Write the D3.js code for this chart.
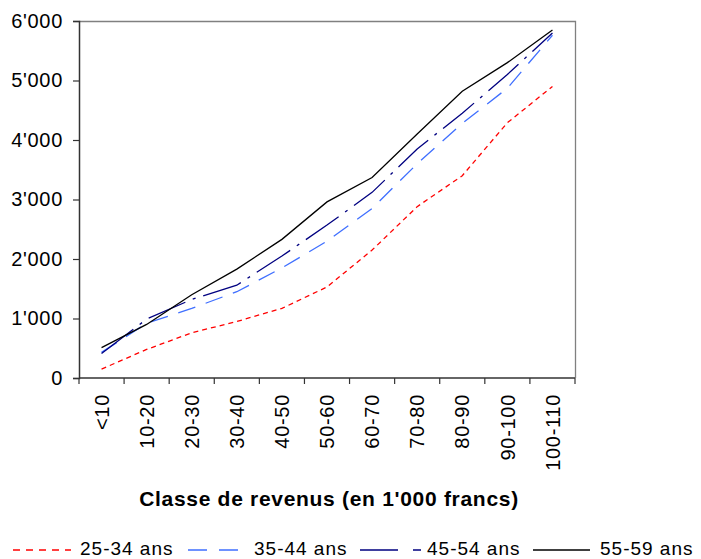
<!DOCTYPE html>
<html>
<head>
<meta charset="utf-8">
<script src="https://cdn.jsdelivr.net/npm/d3@7"></script>
<style>
  body { margin: 0; background: #fff; }
  text { font-family: "Liberation Sans", Arial, sans-serif; fill: #000; }
</style>
</head>
<body>
<div id="chart"></div>
<script>
(function () {

// income classes (in 1'000 francs)
const classes = ["<10", "10-20", "20-30", "30-40", "40-50", "50-60", "60-70", "70-80", "80-90", "90-100", "100-110"];

// values per age group
const ans25_34 = [150, 480, 760, 950, 1170, 1530, 2150, 2880, 3400, 4290, 4900];
const ans35_44 = [430, 920, 1170, 1450, 1850, 2300, 2850, 3600, 4280, 4870, 5760];
const ans45_54 = [410, 990, 1320, 1560, 2050, 2570, 3120, 3850, 4450, 5100, 5800];
const ans55_59 = [510, 900, 1400, 1830, 2330, 2960, 3370, 4100, 4820, 5300, 5850];

const yTicks = [0, 1000, 2000, 3000, 4000, 5000, 6000];

const series = [
  {name: "25-34 ans", values: ans25_34, color: "#ff0000", dash: "5,4", legendDash: "7,6"},
  {name: "35-44 ans", values: ans35_44, color: "#3f6fff", dash: "18,11", legendDash: "19,12"},
  {name: "45-54 ans", values: ans45_54, color: "#000080", dash: "40,8,3,8", legendDash: "38,15,8,15"},
  {name: "55-59 ans", values: ans55_59, color: "#000000", dash: null, legendDash: null}
];

const margin = {top: 21, right: 126, bottom: 181, left: 79};
const W = 701, H = 559;
const width = W - margin.left - margin.right,
      height = H - margin.top - margin.bottom;

const svg = d3.select("#chart").append("svg")
    .attr("width", W)
    .attr("height", H);

const g = svg.append("g")
    .attr("transform", "translate(" + margin.left + "," + margin.top + ")");

const x = d3.scaleBand().domain(classes).range([0, width]);
const y = d3.scaleLinear().domain([0, 6000]).range([height, 0]);

// plot frame (top and right sides)
g.append("path")
  .attr("d", "M0,0.5H" + (width + 0.5) + "V" + height)
  .attr("fill", "none")
  .attr("stroke", "#808080")
  .attr("stroke-width", 1.3);

// y axis
const fmt = v => d3.format(",")(v).replace(/,/g, "'");
const yAxis = g.append("g")
  .call(d3.axisLeft(y).tickValues(yTicks).tickFormat(fmt).tickSize(6).tickSizeOuter(6));
yAxis.select(".domain").attr("stroke", "#333").attr("stroke-width", 1.5);
yAxis.selectAll(".tick line").attr("stroke", "#333").attr("stroke-width", 1.2);
yAxis.selectAll(".tick text")
  .attr("x", -16)
  .style("font-size", "20px")
  .style("letter-spacing", "0.7px")
  .attr("font-family", null);

// x axis, ticks between categories
const xAxis = g.append("g")
  .attr("transform", "translate(0," + height + ")");
xAxis.append("line")
  .attr("x1", 0).attr("x2", width)
  .attr("stroke", "#333").attr("stroke-width", 1.5);
xAxis.selectAll(".xt")
  .data(classes.concat(["end"]))
  .join("line")
  .attr("class", "xt")
  .attr("x1", (d, i) => i * x.step())
  .attr("x2", (d, i) => i * x.step())
  .attr("y1", 0).attr("y2", 6)
  .attr("stroke", "#333").attr("stroke-width", 1.2);
xAxis.selectAll(".xl")
  .data(classes)
  .join("text")
  .attr("class", "xl")
  .attr("transform", d => "translate(" + (x(d) + x.bandwidth() / 2) + ",16) rotate(-90)")
  .attr("text-anchor", "end")
  .attr("dy", "0.36em")
  .style("font-size", "20px")
  .style("letter-spacing", "0.7px")
  .text(d => d);

// axis title
svg.append("text")
  .attr("x", margin.left + width / 2 + 2)
  .attr("y", 506)
  .attr("text-anchor", "middle")
  .style("font-size", "21px")
  .style("font-weight", "bold")
  .style("letter-spacing", "0.7px")
  .text("Classe de revenus (en 1'000 francs)");

// lines
const line = d3.line()
  .x((d, i) => x(classes[i]) + x.bandwidth() / 2)
  .y(d => y(d));

g.selectAll(".series")
  .data(series)
  .join("path")
  .attr("class", "series")
  .attr("d", d => line(d.values))
  .attr("fill", "none")
  .attr("stroke", d => d.color)
  .attr("stroke-width", 1.3)
  .attr("stroke-dasharray", d => d.dash);

// legend
const legendPos = [
  {x1: 13, x2: 71, tx: 80},
  {x1: 188, x2: 238, tx: 254},
  {x1: 360, x2: 421, tx: 427},
  {x1: 533, x2: 590, tx: 600}
];
const legend = svg.append("g").attr("class", "legend");
series.forEach((s, i) => {
  const p = legendPos[i];
  legend.append("line")
    .attr("x1", p.x1).attr("x2", p.x2)
    .attr("y1", 550).attr("y2", 550)
    .attr("stroke", s.color)
    .attr("stroke-width", 1.3)
    .attr("stroke-dasharray", s.legendDash);
  legend.append("text")
    .attr("x", p.tx)
    .attr("y", 555)
    .style("font-size", "19px")
    .style("letter-spacing", "1px")
    .text(s.name);
});

})()
</script>
</body>
</html>
